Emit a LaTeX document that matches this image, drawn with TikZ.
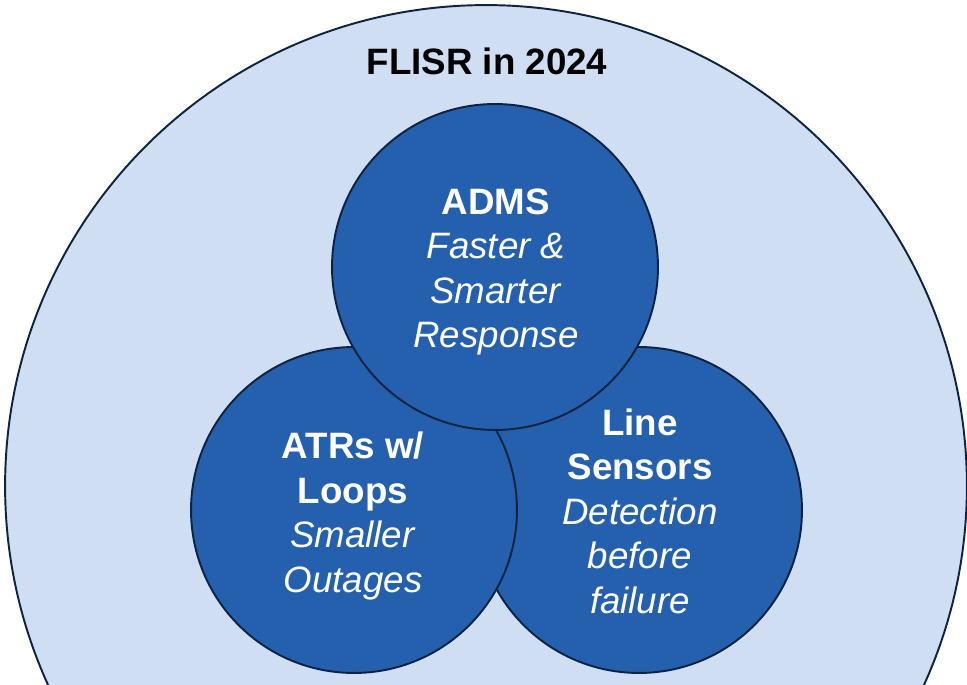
\documentclass[tikz,border=0pt]{standalone}
\usepackage{fontspec}
\setmainfont{Liberation Sans}
\usepackage{xcolor}
\usetikzlibrary{positioning}
\definecolor{flisr_light}{HTML}{CFDEF3}
\definecolor{flisr_blue}{HTML}{2560AE}
\definecolor{flisr_navy}{HTML}{0C2442}

\begin{document}
\begin{tikzpicture}[
        x=0.02cm, y=-0.02cm,
        outer/.style={circle, draw=flisr_navy, fill=flisr_light, line width=1.1pt, minimum size=19.24cm, inner sep=0pt},
        part/.style={circle, draw=flisr_navy, fill=flisr_blue, line width=1.1pt, minimum size=6.52cm, inner sep=0pt},
        part_text/.style={text=white, align=center, inner sep=0pt, font=\fontsize{20.9}{25.3}\selectfont},
        title/.style={font=\fontsize{20.9}{25}\selectfont\bfseries, text=black},
    ]
        \useasboundingbox (0,0) rectangle (967,685);
        \clip (0,0) rectangle (967,685);

        % Outer circle
        \node[outer] (flisr) at (486,486) {};
        \node[title, anchor=base] (head) at (487,75) {FLISR in 2024};

        % Parts
        \node[part] (sensors) at (639,510) {};
        \node[part] (atrs) at (354,510) {};
        \node[part] (adms) at (495,267) {};

        % Labels
        \node[part_text] (sensors_txt) at (640,511) {\textbf{Line}\\\textbf{Sensors}\\\textit{Detection}\\\textit{before}\\\textit{failure}};
        \node[part_text] (atrs_txt) at (353,516) {\textbf{ATRs w/}\\\textbf{Loops}\\\textit{Smaller}\\\textit{Outages}};
        \node[part_text] (adms_txt) at (496,272) {\textbf{ADMS}\\\textit{Faster \&}\\\textit{Smarter}\\\textit{Response}};
    \end{tikzpicture}
\end{document}
